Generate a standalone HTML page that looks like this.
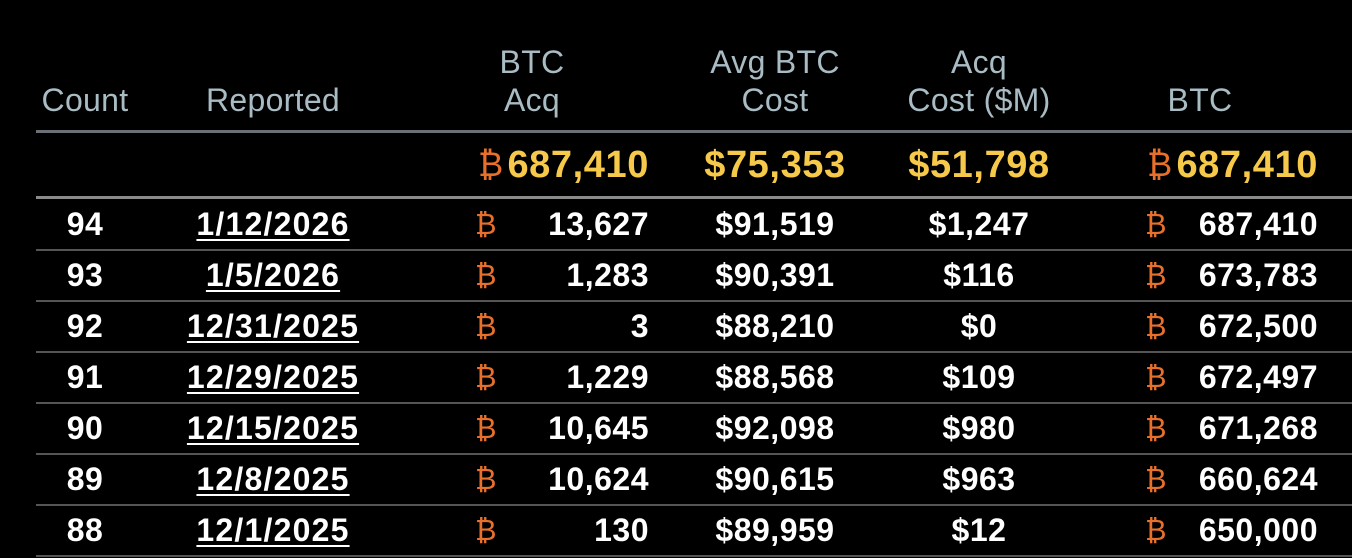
<!DOCTYPE html>
<html><head><meta charset="utf-8"><style>
body{margin:0;width:1352px;height:558px;background:#000;overflow:hidden;position:relative;font-family:"Liberation Sans","DejaVu Sans",sans-serif;}
.t{position:absolute;white-space:nowrap;line-height:40px;height:40px;}
.h{color:#a9bcc4;font-size:32px;letter-spacing:0.3px;}
.c{transform:translateX(-50%);}
.r{transform:translateX(-100%);}
.w{color:#fff;font-size:32px;font-weight:bold;letter-spacing:0.5px;}
.y{color:#f7c94a;font-size:38px;font-weight:bold;letter-spacing:0.6px;}
.o{color:#e8702a;font-family:"DejaVu Sans",sans-serif;font-weight:normal;letter-spacing:0;}
.u{text-decoration:underline;text-decoration-thickness:2px;text-underline-offset:4px;}
.l{position:absolute;left:36px;right:0;}
</style></head><body>
<div class="t h c" style="left:532px;top:42px">BTC</div>
<div class="t h c" style="left:532px;top:80px">Acq</div>
<div class="t h c" style="left:775px;top:42px">Avg BTC</div>
<div class="t h c" style="left:775px;top:80px">Cost</div>
<div class="t h c" style="left:979px;top:42px">Acq</div>
<div class="t h c" style="left:979px;top:80px">Cost ($M)</div>
<div class="t h c" style="left:85px;top:80px">Count</div>
<div class="t h c" style="left:273px;top:80px">Reported</div>
<div class="t h c" style="left:1200px;top:80px">BTC</div>
<div class="l" style="top:130px;height:3px;background:#6b7076"></div>
<div class="t y o" style="left:478px;top:145px;font-size:34px">₿</div>
<div class="t y r" style="left:649px;top:145px">687,410</div>
<div class="t y c" style="left:775px;top:145px">$75,353</div>
<div class="t y c" style="left:979px;top:145px">$51,798</div>
<div class="t y o" style="left:1147px;top:145px;font-size:34px">₿</div>
<div class="t y r" style="left:1318px;top:145px">687,410</div>
<div class="l" style="top:196px;height:3px;background:#8a8a8a"></div>
<div id="rows"></div>
<script>
var d=[["94","1/12/2026","13,627","$91,519","$1,247","687,410"],["93","1/5/2026","1,283","$90,391","$116","673,783"],["92","12/31/2025","3","$88,210","$0","672,500"],["91","12/29/2025","1,229","$88,568","$109","672,497"],["90","12/15/2025","10,645","$92,098","$980","671,268"],["89","12/8/2025","10,624","$90,615","$963","660,624"],["88","12/1/2025","130","$89,959","$12","650,000"]];
var h="";d.forEach(function(r,i){var c=224+i*51,t=c-20;
h+='<div class="t w c" style="left:85px;top:'+t+'px">'+r[0]+'</div>';
h+='<div class="t w c u" style="left:273px;top:'+t+'px;letter-spacing:1.2px">'+r[1]+'</div>';
h+='<div class="t w o" style="left:475px;top:'+t+'px;font-size:29px;color:#e8702a">₿</div>';
h+='<div class="t w r" style="left:649px;top:'+t+'px">'+r[2]+'</div>';
h+='<div class="t w c" style="left:775px;top:'+t+'px">'+r[3]+'</div>';
h+='<div class="t w c" style="left:979px;top:'+t+'px">'+r[4]+'</div>';
h+='<div class="t w o" style="left:1145px;top:'+t+'px;font-size:29px;color:#e8702a">₿</div>';
h+='<div class="t w r" style="left:1318px;top:'+t+'px">'+r[5]+'</div>';
h+='<div class="l" style="top:'+(c+25)+'px;height:2px;background:#555"></div>';});
document.getElementById("rows").innerHTML=h;
</script>
</body></html>
